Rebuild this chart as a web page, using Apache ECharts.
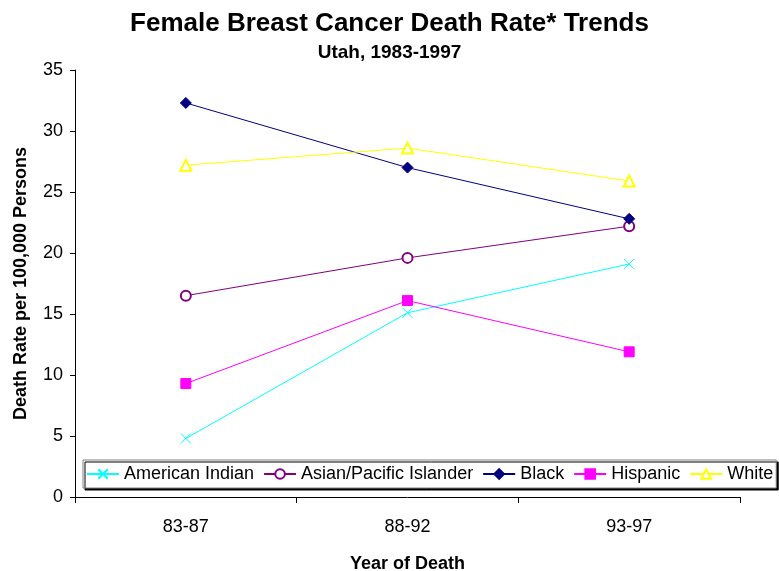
<!DOCTYPE html>
<html>
<head>
<meta charset="utf-8">
<script src="https://cdn.jsdelivr.net/npm/echarts@6/dist/echarts.min.js"></script>
<style>
html,body{margin:0;padding:0;background:#fff;}
#chart{width:779px;height:571px;}
</style>
</head>
<body>
<div id="chart"></div>
<script>
const categories = ['83-87', '88-92', '93-97'];
const americanIndian = [4.8, 15.1, 19.1];
const asianPacific = [16.5, 19.6, 22.2];
const black = [32.3, 27.0, 22.8];
const hispanic = [9.3, 16.1, 11.9];
const white = [27.2, 28.6, 25.9];
const yTicks = { min: 0, max: 35, interval: 5 };

const FONT = '"Liberation Sans", Arial, sans-serif';
const chart = echarts.init(document.getElementById('chart'));

function mk(name, data, color, symbol, size) {
  return {
    name: name, type: 'line', data: data,
    symbol: symbol, symbolSize: size,
    lineStyle: { color: color, width: 1 },
    itemStyle: { color: color, borderColor: color, borderWidth: 1 },
    emphasis: { disabled: true },
    animation: false
  };
}

chart.setOption({
  animation: false,
  backgroundColor: '#ffffff',
  textStyle: { fontFamily: FONT },
  title: [
    { text: 'Female Breast Cancer Death Rate* Trends', left: 'center', top: 6,
      textStyle: { fontFamily: FONT, fontSize: 26, fontWeight: 'bold', color: '#000' } },
    { text: 'Utah, 1983-1997', left: 'center', top: 38,
      textStyle: { fontFamily: FONT, fontSize: 19, fontWeight: 'bold', color: '#000' } }
  ],
  grid: { left: 75, right: 39, top: 70, bottom: 74, containLabel: false, outerBoundsMode: 'none' },
  legend: {
    left: 83, top: 460,
    orient: 'horizontal',
    padding: [5, 3],
    itemWidth: 32, itemHeight: 12, itemGap: 9,
    backgroundColor: '#ffffff',
    borderColor: '#808080', borderWidth: 1,
    shadowColor: '#000', shadowBlur: 0, shadowOffsetX: 2, shadowOffsetY: 2,
    textStyle: { fontFamily: FONT, fontSize: 18, color: '#000' },
    data: ['American Indian', 'Asian/Pacific Islander', 'Black', 'Hispanic', 'White']
  },
  xAxis: {
    type: 'category', data: categories, boundaryGap: true,
    axisLine: { lineStyle: { color: '#000', width: 1 } },
    axisTick: { show: true, length: 6, inside: false, lineStyle: { color: '#000' } },
    axisLabel: { fontFamily: FONT, fontSize: 18, color: '#000', margin: 21 },
    splitLine: { show: false },
    name: 'Year of Death', nameLocation: 'middle', nameGap: 58,
    nameTextStyle: { fontFamily: FONT, fontSize: 18, fontWeight: 'bold', color: '#000' }
  },
  yAxis: {
    type: 'value', min: yTicks.min, max: yTicks.max, interval: yTicks.interval,
    axisLine: { show: true, lineStyle: { color: '#000', width: 1 } },
    axisTick: { show: true, length: 5, inside: false, lineStyle: { color: '#000' } },
    axisLabel: { fontFamily: FONT, fontSize: 18, color: '#000', margin: 12 },
    splitLine: { show: false },
    name: 'Death Rate per 100,000 Persons', nameLocation: 'middle', nameGap: 45,
    nameTextStyle: { fontFamily: FONT, fontSize: 18, fontWeight: 'bold', color: '#000' }
  },
  series: [
    mk('American Indian', americanIndian, '#00FFFF', 'path://M0,0L10,10M10,0L0,10', 10),
    mk('Asian/Pacific Islander', asianPacific, '#800080', 'emptyCircle', 10),
    mk('Black', black, '#000080', 'diamond', 11),
    mk('Hispanic', hispanic, '#FF00FF', 'rect', 10),
    mk('White', white, '#FFFF00', 'emptyTriangle', 11)
  ]
});
</script>
</body>
</html>
